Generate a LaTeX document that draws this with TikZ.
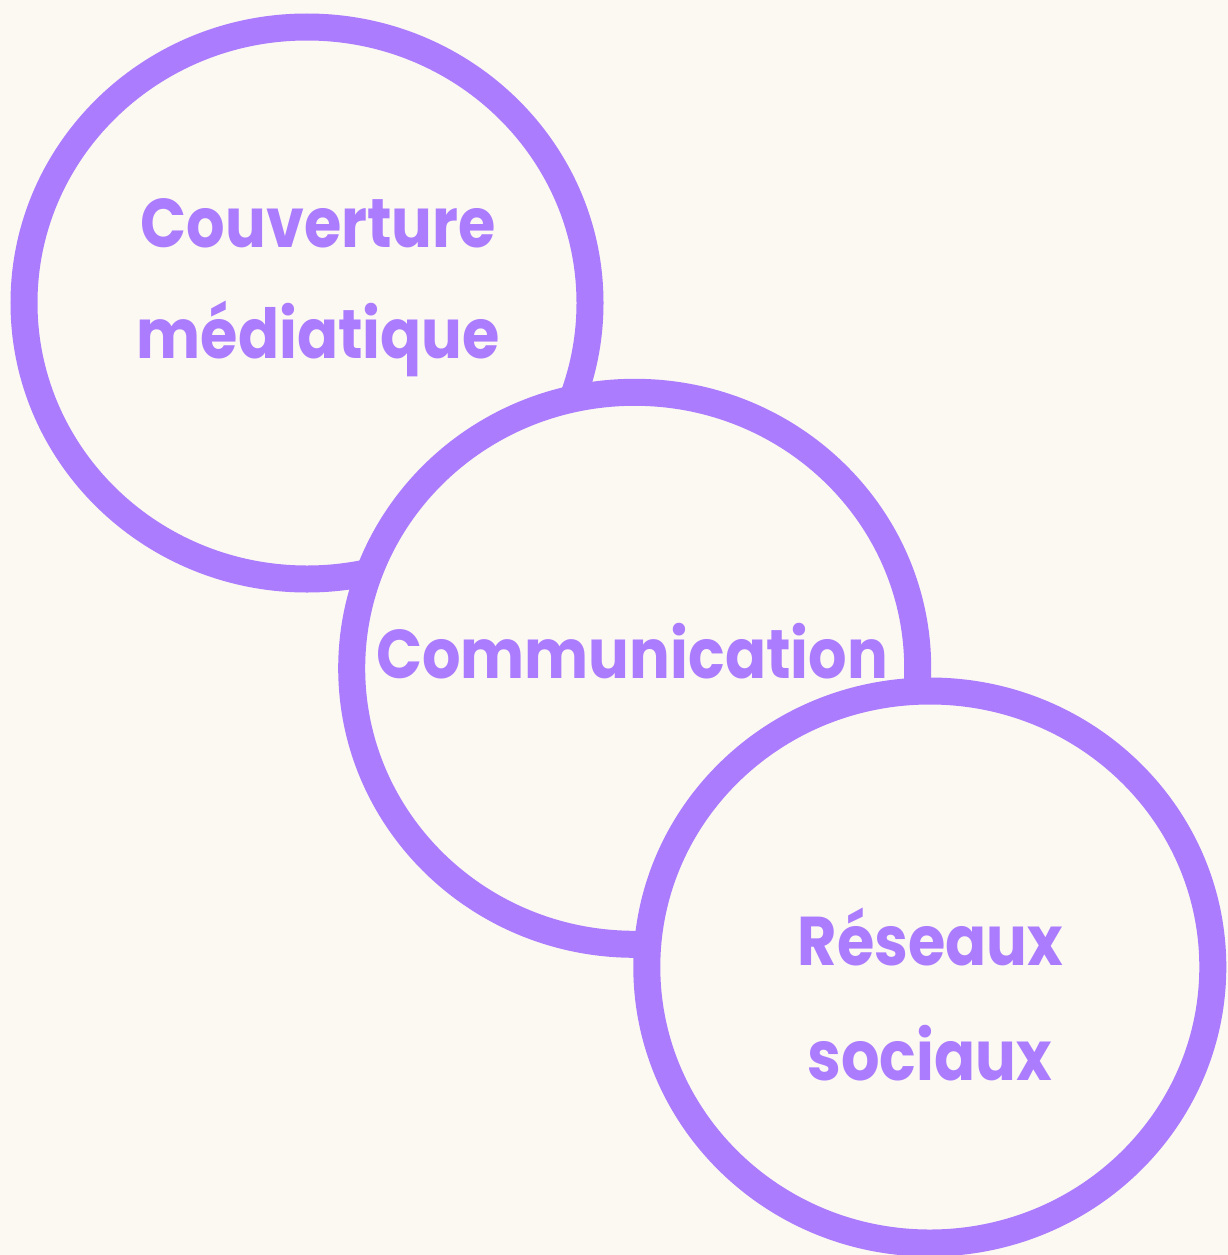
\documentclass[tikz,border=0pt]{standalone}
\usepackage{fontspec}
\newfontfamily\popfont{Poppins}
\usetikzlibrary{shapes.geometric}
\definecolor{bgcream}{HTML}{FCF9F2}
\definecolor{lilac}{HTML}{AC7CFF}
\newcommand{\narrowtxt}[1]{\scalebox{0.877}[1]{#1}}
\begin{document}
\begin{tikzpicture}[x=1pt,y=-1pt,
  ring/.style={ellipse, draw=lilac, fill=bgcream, line width=27pt, inner sep=0pt,
    minimum width=566pt, minimum height=552pt},
  label/.style={anchor=base, inner sep=0pt, text=lilac,
    font=\popfont\bfseries\fontsize{69}{84}\selectfont}]
\fill[bgcream] (0,0) rectangle (1228,1255);
\useasboundingbox (0,0) rectangle (1228,1255);
\node[ring] (c1) at (307,303) {};
\node[ring] (c2) at (634.7,668.3) {};
\node[ring] (c3) at (929.8,967) {};
\node[label] (t1a) at (318.3,247) {\narrowtxt{Couverture}};
\node[label] (t1b) at (318.3,358) {\narrowtxt{médiatique}};
\node[label] (t2) at (632,678.6) {\narrowtxt{Communication}};
\node[label] (t3a) at (930.4,965.5) {\narrowtxt{Réseaux}};
\node[label] (t3b) at (929.5,1080.7) {\narrowtxt{sociaux}};
\end{tikzpicture}
\end{document}
